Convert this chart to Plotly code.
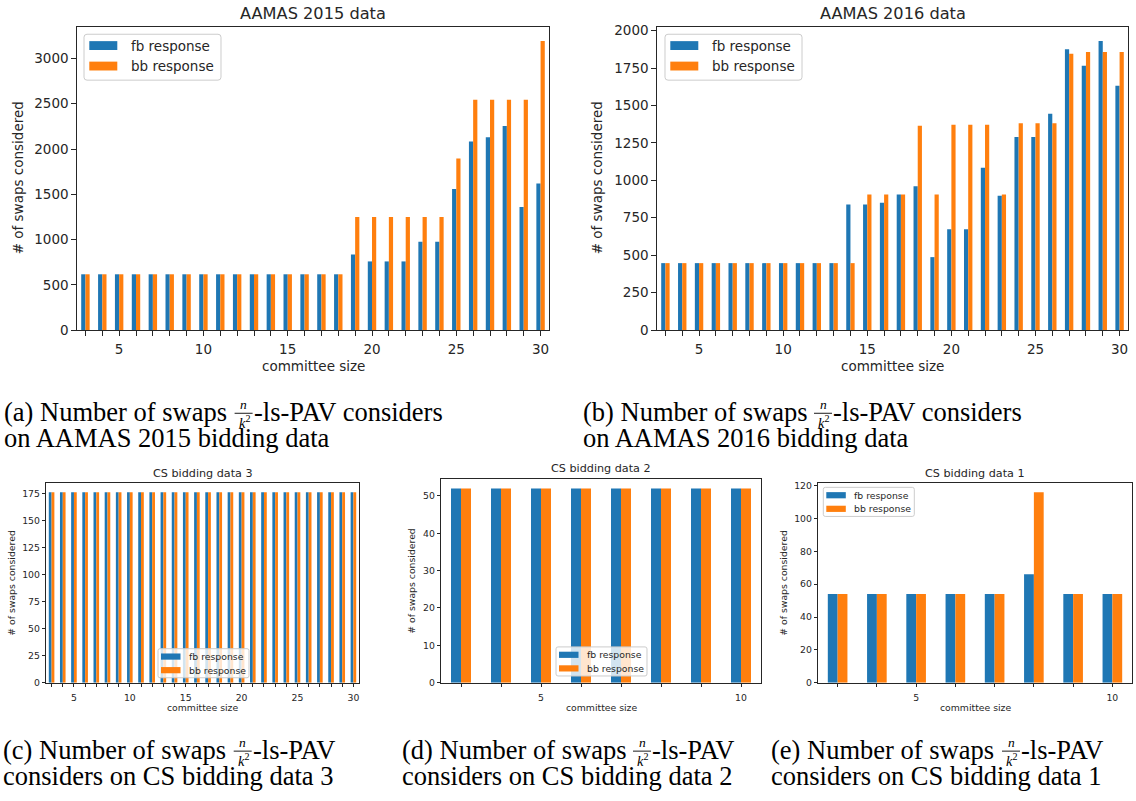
import plotly.graph_objects as go

# ---------------- data ----------------
series_names = ["fb response", "bb response"]

committee_2015 = [3, 4, 5, 6, 7, 8, 9, 10, 11, 12, 13, 14, 15, 16, 17, 18, 19, 20, 21, 22, 23, 24, 25, 26, 27, 28, 29, 30]
fb_2015 = [616, 616, 616, 616, 616, 616, 616, 616, 616, 616, 616, 616, 616, 616, 616, 616,
           834, 758, 758, 758, 976, 976, 1558, 2082, 2129, 2253, 1358, 1620]
bb_2015 = [616, 616, 616, 616, 616, 616, 616, 616, 616, 616, 616, 616, 616, 616, 616, 616,
           1249, 1249, 1249, 1249, 1249, 1249, 1896, 2544, 2544, 2544, 2544, 3192]

committee_2016 = [3, 4, 5, 6, 7, 8, 9, 10, 11, 12, 13, 14, 15, 16, 17, 18, 19, 20, 21, 22, 23, 24, 25, 26, 27, 28, 29, 30]
fb_2016 = [447, 447, 447, 447, 447, 447, 447, 447, 447, 447, 447,
           839, 839, 850, 905, 961, 487, 674, 674, 1084, 897, 1289, 1289, 1445, 1875, 1765, 1930, 1632]
bb_2016 = [447, 447, 447, 447, 447, 447, 447, 447, 447, 447, 447, 447,
           905, 905, 905, 1364, 905, 1372, 1372, 1372, 905, 1381, 1381, 1381, 1846, 1857, 1857, 1857]

committee_cs3 = [3, 4, 5, 6, 7, 8, 9, 10, 11, 12, 13, 14, 15, 16, 17, 18, 19, 20, 21, 22, 23, 24, 25, 26, 27, 28, 29, 30]
fb_cs3 = [176, 176, 176, 176, 176, 176, 176, 176, 176, 176, 176, 176, 176, 176,
          176, 176, 176, 176, 176, 176, 176, 176, 176, 176, 176, 176, 176, 176]
bb_cs3 = [176, 176, 176, 176, 176, 176, 176, 176, 176, 176, 176, 176, 176, 176,
          176, 176, 176, 176, 176, 176, 176, 176, 176, 176, 176, 176, 176, 176]

committee_cs2 = [3, 4, 5, 6, 7, 8, 9, 10]
fb_cs2 = [52, 52, 52, 52, 52, 52, 52, 52]
bb_cs2 = [52, 52, 52, 52, 52, 52, 52, 52]

committee_cs1 = [3, 4, 5, 6, 7, 8, 9, 10]
fb_cs1 = [54, 54, 54, 54, 54, 66, 54, 54]
bb_cs1 = [54, 54, 54, 54, 54, 116, 54, 54]

chart_titles = ["AAMAS 2015 data", "AAMAS 2016 data", "CS bidding data 3", "CS bidding data 2", "CS bidding data 1"]
x_title = "committee size"
y_title = "# of swaps considered"
y_ticks = [[0, 500, 1000, 1500, 2000, 2500, 3000],
           [0, 250, 500, 750, 1000, 1250, 1500, 1750, 2000],
           [0, 25, 50, 75, 100, 125, 150, 175],
           [0, 10, 20, 30, 40, 50],
           [0, 20, 40, 60, 80, 100, 120]]
x_label_every = 5

caption_letters = ["(a)", "(b)", "(c)", "(d)", "(e)"]
caption_line1_left = "Number of swaps"
caption_frac_num = "n"
caption_frac_den = "k"
caption_tail_top = "-ls-PAV considers"
caption_tail_bottom = "-ls-PAV"
caption_line2 = ["on AAMAS 2015 bidding data", "on AAMAS 2016 bidding data",
                 "considers on CS bidding data 3", "considers on CS bidding data 2",
                 "considers on CS bidding data 1"]

# ---------------- styling / layout ----------------
W, H = 1136, 801
BLUE = "#1f77b4"
ORANGE = "#ff7f0e"
AX = "#262626"
SANS = "DejaVu Sans"
SERIF = "Liberation Serif"


def px(x):
    return x / W


def py(y):
    return 1 - y / H


panels = [
    dict(x=committee_2015, fb=fb_2015, bb=bb_2015, box=(77, 549, 23, 331), fs=13.5, tfs=16.2,
         title_y=10, xlab_y=368, ylab_x=18, leg=(84, 30.7), big=True, ticklen=4.7, xstand=2),
    dict(x=committee_2016, fb=fb_2016, bb=bb_2016, box=(657, 1128, 23, 331), fs=13.5, tfs=16.2,
         title_y=10, xlab_y=368, ylab_x=597, leg=(665, 30.7), big=True, ticklen=4.7, xstand=2),
    dict(x=committee_cs3, fb=fb_cs3, bb=bb_cs3, box=(46, 359, 486, 689), fs=9.3, tfs=11.2,
         title_y=477, xlab_y=714, ylab_x=12, leg=(158, 654.5), big=False, ticklen=3.3, xstand=3),
    dict(x=committee_cs2, fb=fb_cs2, bb=bb_cs2, box=(441, 761, 482, 689), fs=9.3, tfs=11.2,
         title_y=472, xlab_y=714, ylab_x=412, leg=(556, 652.7), big=False, ticklen=3.3, xstand=3),
    dict(x=committee_cs1, fb=fb_cs1, bb=bb_cs1, box=(818, 1132, 486, 689), fs=9.3, tfs=11.2,
         title_y=477, xlab_y=714, ylab_x=784, leg=(823.3, 490.7), big=False, ticklen=3.3, xstand=3),
]

fig = go.Figure()
layout = {}
annotations = []
shapes = []


def rrect_path(x0, y0, x1, y1, r):
    def P(x, y):
        return f"{px(x):.6f},{py(y):.6f}"
    return (f"M {P(x0 + r, y0)} L {P(x1 - r, y0)} Q {P(x1, y0)} {P(x1, y0 + r)} "
            f"L {P(x1, y1 - r)} Q {P(x1, y1)} {P(x1 - r, y1)} L {P(x0 + r, y1)} "
            f"Q {P(x0, y1)} {P(x0, y1 - r)} L {P(x0, y0 + r)} Q {P(x0, y0)} {P(x0 + r, y0)} Z")


for i, p in enumerate(panels, start=1):
    xa = "x" if i == 1 else f"x{i}"
    ya = "y" if i == 1 else f"y{i}"
    for name, vals, col in ((series_names[0], p["fb"], BLUE), (series_names[1], p["bb"], ORANGE)):
        fig.add_trace(go.Bar(x=p["x"], y=vals, name=name, marker=dict(color=col, line=dict(width=0)),
                             xaxis=xa, yaxis=ya, showlegend=False))
    l, r, t, b = p["box"]
    ymax = max(max(p["fb"]), max(p["bb"])) * 1.05
    tickfont = dict(family=SANS, size=p["fs"], color=AX)
    lw_ax = 1.0 if p["big"] else 0.8
    common = dict(showline=True, linecolor=AX, linewidth=lw_ax, mirror=True,
                  ticks="outside", ticklen=p["ticklen"], tickwidth=lw_ax,
                  tickcolor=AX, showgrid=False, zeroline=False, tickfont=tickfont, fixedrange=True)
    labelled = [v for v in p["x"] if v % x_label_every == 0]
    layout["xaxis" if i == 1 else f"xaxis{i}"] = dict(
        domain=[px(l), px(r)], anchor=ya, range=[min(p["x"]) - 0.5, max(p["x"]) + 0.5],
        tickmode="array", tickvals=labelled, ticktext=[str(v) for v in labelled],
        ticklabelstandoff=p["xstand"],
        minor=dict(tickmode="array", tickvals=p["x"], ticks="outside", ticklen=p["ticklen"],
                   tickwidth=lw_ax, tickcolor=AX, showgrid=False),
        **common)
    layout["yaxis" if i == 1 else f"yaxis{i}"] = dict(
        domain=[py(b), py(t)], anchor=xa, range=[0, ymax], tickmode="array",
        tickvals=y_ticks[i - 1], ticktext=[str(v) for v in y_ticks[i - 1]], **common)

    cx = (l + r) / 2
    annotations.append(dict(text=chart_titles[i - 1], x=px(cx), y=py(p["title_y"]), xref="paper", yref="paper",
                            showarrow=False, xanchor="center", yanchor="middle",
                            font=dict(family=SANS, size=p["tfs"], color=AX)))
    annotations.append(dict(text=x_title, x=px(cx), y=py(p["xlab_y"]), xref="paper", yref="paper",
                            showarrow=False, xanchor="center", yanchor="middle",
                            font=dict(family=SANS, size=p["fs"], color=AX)))
    annotations.append(dict(text=y_title, x=px(p["ylab_x"]), y=py((t + b) / 2), xref="paper", yref="paper",
                            showarrow=False, xanchor="center", yanchor="middle", textangle=-90,
                            font=dict(family=SANS, size=p["fs"], color=AX)))

    # legend (matplotlib style)
    lx, ly = p["leg"]
    if p["big"]:
        lw, lh, rad, pdx, pw, ph, tdx, rows = 137, 46.6, 3, 5.3, 28, 9, 45.3, (11.5, 32.3)
    else:
        lw, lh, rad, pdx, pw, ph, tdx, rows = 91, 29.5, 2, 3.0, 19.5, 6.3, 28.5, (8.0, 21.8)
    shapes.append(dict(type="path", path=rrect_path(lx, ly, lx + lw, ly + lh, rad), xref="paper", yref="paper",
                       line=dict(color="#cccccc", width=1), fillcolor="rgba(255,255,255,0.8)", layer="above"))
    for k, (name, col) in enumerate(((series_names[0], BLUE), (series_names[1], ORANGE))):
        yc = ly + rows[k]
        shapes.append(dict(type="rect", x0=px(lx + pdx), x1=px(lx + pdx + pw), y0=py(yc - ph / 2), y1=py(yc + ph / 2),
                           xref="paper", yref="paper", line=dict(width=0), fillcolor=col, layer="above"))
        annotations.append(dict(text=name, x=px(lx + tdx), y=py(yc), xref="paper", yref="paper",
                                showarrow=False, xanchor="left", yanchor="middle",
                                font=dict(family=SANS, size=p["fs"], color=AX)))

# ---------------- captions ----------------
cap_pos = [(3.6, 423), (583, 423), (2.7, 766), (402, 766), (771, 766)]
CFS = 26.5
for i, (x0, base) in enumerate(cap_pos):
    tail = caption_tail_top if i < 2 else caption_tail_bottom
    ymid1 = base - 9.0
    annotations.append(dict(text=f"{caption_letters[i]} {caption_line1_left}", x=px(x0), y=py(ymid1),
                            xref="paper", yref="paper", showarrow=False, xanchor="left", yanchor="middle",
                            borderpad=0, borderwidth=0, font=dict(family=SERIF, size=CFS, color="black")))
    fx0, fx1 = x0 + 231, x0 + 249
    fcx = (fx0 + fx1) / 2
    shapes.append(dict(type="line", x0=px(fx0), x1=px(fx1), y0=py(base - 7.5), y1=py(base - 7.5),
                       xref="paper", yref="paper", line=dict(color="black", width=0.9)))
    annotations.append(dict(text=f"<i>{caption_frac_num}</i>", x=px(fcx), y=py(base - 16.5),
                            xref="paper", yref="paper", showarrow=False, xanchor="center", yanchor="middle",
                            borderpad=0, borderwidth=0, font=dict(family=SERIF, size=13.5, color="black")))
    annotations.append(dict(text=f"<i>{caption_frac_den}</i><sup>2</sup>", x=px(fcx + 1), y=py(base + 1.5),
                            xref="paper", yref="paper", showarrow=False, xanchor="center", yanchor="middle",
                            borderpad=0, borderwidth=0, font=dict(family=SERIF, size=14.5, color="black")))
    annotations.append(dict(text=tail, x=px(fx1 + 1), y=py(ymid1),
                            xref="paper", yref="paper", showarrow=False, xanchor="left", yanchor="middle",
                            borderpad=0, borderwidth=0, font=dict(family=SERIF, size=CFS, color="black")))
    annotations.append(dict(text=caption_line2[i], x=px(x0), y=py(base + 27 - 9.0),
                            xref="paper", yref="paper", showarrow=False, xanchor="left", yanchor="middle",
                            borderpad=0, borderwidth=0, font=dict(family=SERIF, size=CFS, color="black")))

fig.update_layout(
    width=W, height=H, margin=dict(l=0, r=0, t=0, b=0),
    paper_bgcolor="white", plot_bgcolor="white",
    barmode="group", bargap=0.5, bargroupgap=0.0,
    annotations=annotations, shapes=shapes, showlegend=False,
    **layout,
)

fig.write_html("out.html", post_script="document.body.style.margin='0';document.body.style.overflow='hidden';",
               config={"displayModeBar": False})
